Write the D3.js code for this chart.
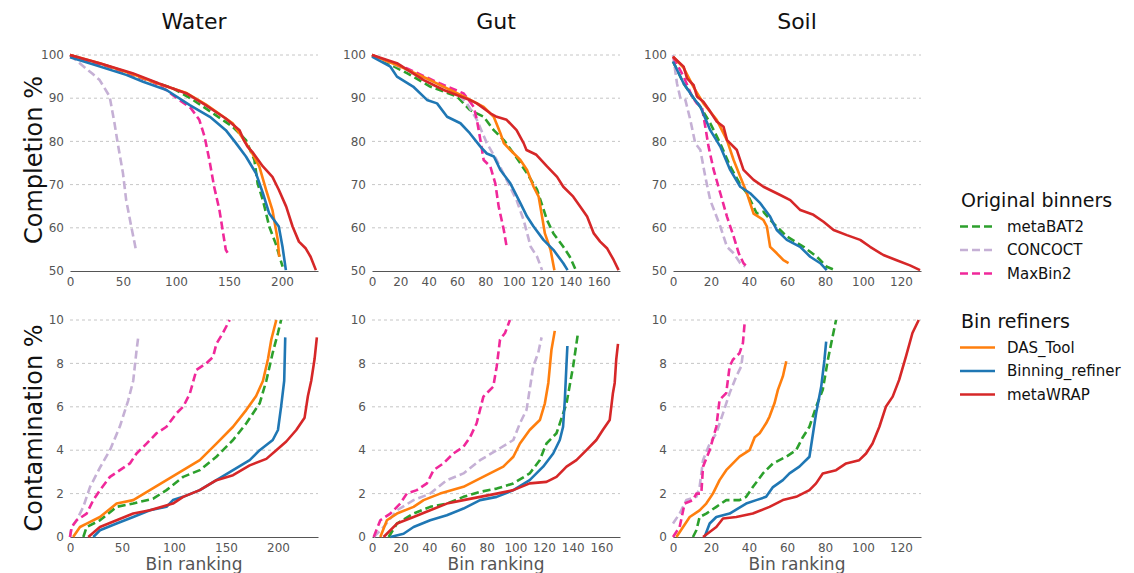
<!DOCTYPE html>
<html lang="en">
<head>
<meta charset="UTF-8">
<title>Bin ranking curves</title>
<script src="https://cdnjs.cloudflare.com/ajax/libs/d3/7.9.0/d3.min.js"></script>
<style>
    body { margin: 0; background: #fff; font-family: "DejaVu Sans", sans-serif; }
    .grid line { stroke: #b8b8b8; stroke-width: 0.8; stroke-dasharray: 3,3; }
    .tick-label { fill: #555; font-size: 12px; }
</style>
</head>
<body>
<div id="chart"></div>
<script>
// series order and styles
const seriesNames = ["metaBAT2", "CONCOCT", "MaxBin2", "DAS_Tool", "Binning_refiner", "metaWRAP"];
const seriesColors = ["#2ca02c", "#c5b0d5", "#f0289a", "#ff7f0e", "#1f77b4", "#d62728"];
const seriesDashed = [true, true, true, false, false, false];

const envs = ["Water", "Gut", "Soil"];
const compTicks = [50, 60, 70, 80, 90, 100];
const contTicks = [0, 2, 4, 6, 8, 10];
const xTicks = [[0, 50, 100, 150, 200], [0, 20, 40, 60, 80, 100, 120, 140, 160], [0, 20, 40, 60, 80, 100, 120]];
const compXmax = [234, 175, 130.5];
const contXmax = [238.5, 173, 130.5];

// completion %, [bin rank, value]
const waterCompletion = {
    metaBAT2: [[0,100],[15,98.8],[37,97.3],[59,95.4],[78,93.8],[97,92.3],[116,89.6],[135,86.5],[153.5,83.4],[166,80.3],[174,75.7],[177,70.3],[182,66.4],[188,60.3],[194,56.4],[200.6,51]],
    CONCOCT: [[0,100],[12,97.5],[21,95.7],[28,94.2],[37.4,90.4],[42,84.2],[45,79.6],[50,72.6],[53,66.4],[57.8,60.3],[61,56.4],[62.5,54.5]],
    MaxBin2: [[0,100],[15,98.8],[37,97.3],[59,95.4],[78,93.8],[90.7,91.9],[103,89.6],[114,87.7],[122,85],[127,81.1],[131.5,75.7],[136,69.5],[141,64.1],[144,59.5],[147,54.9],[150,53.7]],
    DAS_Tool: [[0,100],[28,98.1],[59,95.6],[84,93.3],[110,91.2],[128,88.6],[153.5,84.2],[166,79.6],[172,77.2],[178.6,74.2],[185,68.8],[191,64.1],[196,57.2],[197.4,53.3]],
    Binning_refiner: [[0,99.5],[20,98],[53,95.4],[69,93.8],[91,91.9],[113,88.4],[132,85.7],[147,82.6],[156.6,79.6],[166,76.5],[175.5,72.6],[182,68],[188,63.3],[197,60.3],[200.5,55.6],[203.7,50.2]],
    metaWRAP: [[0,100],[28,98.1],[59,95.8],[84,93.4],[110,91.1],[128,88.4],[147,85.3],[160,82.6],[164,80.3],[167.5,78.8],[172,77.6],[182,74.2],[191,71.8],[197,68.8],[204,64.9],[210,60.3],[216,56.8],[222.5,55.2],[227,53.3],[232,50.2]]
};
const gutCompletion = {
    metaBAT2: [[0,100],[24.7,95.8],[41,92.7],[60,90.4],[69,87.3],[78.8,85.7],[85.9,82.6],[93,80.3],[100,77.2],[109.4,72.6],[116.5,68.8],[123.5,61.8],[128,58.7],[135,55.6],[139.6,53.3],[143.8,50.2]],
    CONCOCT: [[0,100],[24.7,96.5],[41,94.2],[60,91.1],[67,88.8],[74,85],[81,79.6],[88,75.7],[95,71.1],[102,66.4],[107,61.8],[112,55.6],[116.5,53.3],[120,50.2]],
    MaxBin2: [[0,100],[24.7,96.9],[48,93.4],[64.7,91.1],[71.8,88],[74,85],[76.5,80.3],[78.8,75.7],[83.5,74.2],[87,70.3],[89.4,64.9],[93,59.5],[95,55.6]],
    DAS_Tool: [[0,100],[20,97.3],[41,94.2],[64.7,90.4],[78.8,88],[85.9,85.7],[90.6,81.9],[93,79.6],[97.6,78],[104.7,75.7],[109.4,73.4],[114,69.5],[117.6,67.2],[120,62.6],[122,58.7],[126,54.9],[128.7,50.2]],
    Binning_refiner: [[0,99.6],[13,97.3],[17.6,95],[29,92.7],[38.8,89.6],[45.9,88.8],[53,85.7],[62.4,84.2],[69,81.9],[76.5,78.8],[81,77.2],[86,76.5],[90.6,73.4],[97.6,70.3],[104.7,65.7],[109.4,62.6],[114,60.3],[121,57.2],[128,54.9],[135,51.8],[138,50.2]],
    metaWRAP: [[0,100],[17.6,98.1],[36.5,94.2],[50.6,91.9],[69,89.6],[74,88.8],[83.5,86.5],[88,85.7],[95,85],[102,82.6],[107,79.6],[109,78],[116,76.9],[123.5,74.2],[130.6,71.8],[135,69.5],[142,67.2],[147,64.9],[151.8,62.6],[156.5,58.7],[161,56.8],[166,55.2],[170.6,52.5],[174,50.2]]
};
const soilCompletion = {
    metaBAT2: [[0,98.5],[5.6,93.4],[10.9,90],[14.4,88],[19.6,84.2],[24.9,79.5],[30.1,74.2],[35.4,70],[38.9,68],[44.1,63.3],[47.6,63.7],[52.9,61],[59.9,58],[68.7,55.6],[75.7,53.3],[80.9,51],[85.3,50.2]],
    CONCOCT: [[0,100],[2.1,93.4],[3.9,90],[6.5,89.6],[9.1,85],[11.7,79.6],[14.4,78],[17,71.8],[19.6,66.4],[22.3,63.3],[24.9,60.3],[28.4,55.6],[31.9,54.1],[35.4,51.8],[38,51]],
    MaxBin2: [[0,99.6],[5.6,95],[10,90.4],[12.6,88.8],[15.2,88],[17,83.4],[18.7,78.8],[21.4,73.4],[24.9,68],[28.4,62.6],[31.9,58],[34.6,54.1],[37.1,51.8],[38.9,51]],
    DAS_Tool: [[0,99.6],[5.6,97],[10.9,92.5],[16,88.8],[23,85],[28.4,80.3],[31.9,75.7],[35.4,71.8],[38.9,68],[42.4,63.3],[47.6,61.8],[49.4,60.3],[51.1,55.6],[54.6,54.1],[58.1,52.5],[60.8,51.8]],
    Binning_refiner: [[0,98.5],[5.6,93.4],[10.9,90],[14.4,88],[19.6,82.6],[24.9,78.8],[30.1,73.4],[35.4,69.5],[40.6,68],[45.9,65.7],[51.1,62.6],[54.6,59.5],[59.9,57.2],[66.9,55.6],[72.2,53.3],[77.5,51.8],[80.9,50.2]],
    metaWRAP: [[0,99.6],[5.6,97.3],[7.4,94.6],[10.9,93],[12.6,90.4],[16,89.2],[19.6,86.9],[23,84.6],[26.6,83.4],[28.4,80.3],[33.6,78],[37.1,73.4],[42.4,71.1],[47.6,69.5],[56.4,67.6],[61.7,66.4],[67,64.1],[73.9,63],[79.2,61.4],[84.5,59.5],[91.5,58.3],[98.5,57.2],[103.7,55.6],[110.7,53.7],[117.7,52.5],[124.7,51.3],[130,50.2]]
};

// contamination %, [bin rank, value]
const waterContamination = {
    metaBAT2: [[12.8,0],[16,0.46],[28.8,0.77],[44.8,1.39],[60.8,1.54],[80,1.77],[92.8,2.16],[108.8,2.77],[124.8,3.08],[140.8,3.7],[156.8,4.47],[169.6,5.24],[182.4,6.16],[188.8,7.2],[195,8.5],[200,9.4],[203,10]],
    CONCOCT: [[0,0],[1.6,0.46],[6.4,0.77],[12.8,1.39],[19.2,2.3],[28.8,3.2],[38.4,4],[48,5.1],[56,6.3],[60.8,7.2],[64,8.6],[65.6,9.2]],
    MaxBin2: [[0,0],[1.6,0.46],[6.4,0.77],[16,1.08],[22.4,1.7],[28.8,2.16],[38.4,2.77],[48,3.08],[57.6,3.39],[64,3.85],[73.6,4.3],[83.2,4.78],[92.8,5.08],[102.4,5.7],[108.8,6],[115.2,6.6],[121.6,7.7],[131,8],[137.6,8.3],[140.8,8.9],[147,9.4],[153.6,10]],
    DAS_Tool: [[3,0],[9.6,0.46],[16,0.62],[28.8,0.92],[44.8,1.54],[60.8,1.7],[76.8,2.16],[92.8,2.62],[108.8,3.08],[124.8,3.54],[140.8,4.3],[156.8,5.08],[169.6,5.86],[179,6.5],[185.6,7.2],[190.4,8.2],[193.6,9.1],[198.4,10]],
    Binning_refiner: [[22.4,0],[28.8,0.31],[44.8,0.62],[60.8,0.92],[76.8,1.23],[92.8,1.39],[99,1.7],[108.8,1.85],[124.8,2.16],[140.8,2.62],[156.8,3.08],[172.8,3.54],[182.4,4],[195,4.47],[200,4.93],[203,6],[206,7.2],[207,9.2]],
    metaWRAP: [[17.6,0],[28.8,0.46],[44.8,0.77],[60.8,1.08],[76.8,1.23],[99,1.54],[108.8,1.85],[124.8,2.16],[140.8,2.62],[156.8,2.85],[172.8,3.3],[188.8,3.6],[198.4,4],[208,4.4],[217.6,4.93],[225.6,5.5],[228.8,6.5],[232,7.2],[235.2,8.2],[237.4,9.2]]
};
const gutContamination = {
    metaBAT2: [[11.6,0],[17.4,0.62],[29,1.08],[40.6,1.39],[52.2,1.54],[63.8,1.85],[75.4,2.08],[87,2.23],[98.6,2.47],[110,2.93],[117,3.54],[121.7,4.31],[128.7,4.78],[135.7,6.16],[140.3,7.86],[143.8,9.45]],
    CONCOCT: [[1.2,0],[8.1,0.46],[17.4,1.23],[29,1.7],[40.6,2],[52.2,2.62],[63.8,2.93],[75.4,3.54],[87,4],[98.6,4.47],[103.2,5.24],[107.8,5.86],[112.5,7.86],[116,8.5],[118.3,9.2]],
    MaxBin2: [[1.2,0],[5.8,0.77],[12.8,1.08],[19.7,1.54],[24.3,2],[31.3,2.16],[38.3,2.47],[42.9,3.08],[49.8,3.39],[56.8,3.85],[63.8,4.16],[68.4,4.6],[73,5.24],[77.7,6.47],[84.6,6.93],[87,7.86],[89.3,9.1],[92.8,9.4],[96.2,10]],
    DAS_Tool: [[5.8,0],[10.4,0.77],[17.4,1.08],[29,1.39],[36,1.7],[47.5,2],[63.8,2.31],[73,2.62],[82.3,2.93],[91.6,3.24],[98.6,3.7],[103.2,4.31],[110,4.93],[117.1,5.39],[120.6,6.16],[123,7.1],[125.2,8.63],[127.5,9.5]],
    Binning_refiner: [[12.8,0],[22,0.15],[29,0.46],[40.6,0.77],[52.2,1],[63.8,1.31],[75.4,1.7],[87,1.85],[98.6,2.16],[110,2.62],[119.4,3.24],[126.4,3.85],[131,4.47],[133.3,5.08],[134.5,6.3],[135.6,7.86],[136.3,8.8]],
    metaWRAP: [[8.1,0],[17.4,0.62],[29,0.92],[40.6,1.23],[52.2,1.54],[63.8,1.7],[75.4,1.85],[87,2],[98.6,2.16],[110,2.47],[121.7,2.54],[128.7,2.77],[135.7,3.24],[142.6,3.54],[149.6,4],[156.5,4.47],[161,4.93],[165.8,5.39],[168,6.6],[169.3,7.1],[170.4,8.2],[171.6,8.9]]
};
const soilContamination = {
    metaBAT2: [[10.5,0],[12.3,0.31],[14,0.92],[17.5,1.08],[22.8,1.39],[28,1.7],[35,1.7],[38.5,1.85],[42,2.3],[47.3,2.93],[52.6,3.39],[59.6,3.7],[64.8,4],[68.3,4.6],[71.8,5.08],[75.3,6],[78.8,6.78],[81.5,8.17],[84,9.24],[85.8,10]],
    CONCOCT: [[0,0.62],[3.5,1.08],[7,1.7],[12.3,1.85],[14,2.3],[15.8,3.54],[19.3,4.3],[22.8,4.78],[26.3,5.7],[29.8,6.63],[33.3,7.4],[35.9,7.86],[36.8,8.47]],
    MaxBin2: [[0,0],[3.5,0.46],[6.1,1.54],[10.5,1.7],[12.3,2],[14.9,2],[15.8,3.24],[19.3,4],[22.8,5.08],[24.5,6.32],[28,6.63],[29.8,7.86],[31.5,8.17],[35,8.47],[36.8,8.94],[37.7,9.86]],
    DAS_Tool: [[1.8,0],[5.3,0.46],[8.8,0.92],[14,1.23],[17.5,1.54],[21,2],[24.5,2.62],[28,3.08],[31.5,3.39],[35,3.7],[40.3,4],[43,4.6],[45.6,4.78],[49,5.24],[50.8,5.55],[53.4,6.16],[55.2,6.78],[57.8,7.4],[59.6,8.1]],
    Binning_refiner: [[16.6,0],[19.3,0.62],[22.8,0.92],[29.8,1.08],[38.5,1.54],[43.8,1.7],[49,1.85],[52.6,2.3],[57.8,2.62],[61.3,2.93],[66.5,3.24],[71.8,3.7],[75.3,5.7],[78,6.93],[79.7,8.17],[80.6,9]],
    metaWRAP: [[15.8,0],[22.8,0.46],[26.3,0.85],[33.3,0.92],[42,1.08],[50.8,1.39],[57.8,1.7],[64.8,1.85],[71.8,2.16],[75.3,2.47],[78.8,2.93],[85.8,3.08],[91.1,3.39],[98,3.54],[101.6,3.85],[105,4.31],[108.6,5.08],[112,6],[115.6,6.47],[119,7.24],[122.6,8.32],[126,9.4],[129.3,10]]
};

const completionData = [waterCompletion, gutCompletion, soilCompletion];
const contaminationData = [waterContamination, gutContamination, soilContamination];

const W = 1134, H = 573;
const colX = [70, 372, 673];
const plotW = 248;
const rows = [
    { top: 55, bottom: 271, domain: [50, 100], ticks: compTicks, data: completionData, xmax: compXmax },
    { top: 320, bottom: 537, domain: [0, 10], ticks: contTicks, data: contaminationData, xmax: contXmax }
];

const svg = d3.select("#chart").append("svg")
    .attr("width", W)
    .attr("height", H);

rows.forEach((row, ri) => {
    const y = d3.scaleLinear().domain(row.domain).range([row.bottom, row.top]);
    colX.forEach((x0, ci) => {
        const x = d3.scaleLinear().domain([0, row.xmax[ci]]).range([x0, x0 + plotW]);
        const g = svg.append("g");

        // dashed gridlines
        g.append("g").attr("class", "grid")
            .selectAll("line")
            .data(row.ticks.slice(1))
            .enter().append("line")
            .attr("x1", x0).attr("x2", x0 + plotW)
            .attr("y1", d => y(d)).attr("y2", d => y(d));

        // y tick labels
        g.selectAll(".ylab")
            .data(row.ticks)
            .enter().append("text")
            .attr("class", "tick-label")
            .attr("x", x0 - 6)
            .attr("y", d => y(d))
            .attr("dy", "0.35em")
            .attr("text-anchor", "end")
            .text(d => d);

        // bottom axis
        const ax = g.append("g")
            .attr("transform", `translate(0,${row.bottom})`)
            .call(d3.axisBottom(x).tickValues(xTicks[ci]).tickSize(0).tickPadding(6));
        ax.select(".domain").attr("stroke", "#555").attr("stroke-width", 1.2);
        ax.selectAll("text").attr("fill", "#555").style("font-size", "12px").style("font-family", "DejaVu Sans");

        // curves
        const line = d3.line().x(d => x(d[0])).y(d => y(d[1]));
        seriesNames.forEach((name, si) => {
            g.append("path")
                .datum(row.data[ci][name])
                .attr("d", line)
                .attr("fill", "none")
                .attr("stroke", seriesColors[si])
                .attr("stroke-width", 2.6)
                .attr("stroke-linejoin", "round")
                .attr("stroke-dasharray", seriesDashed[si] ? "8,4" : null);
        });

        if (ri === 0) {
            svg.append("text")
                .attr("x", x0 + plotW / 2).attr("y", 29)
                .attr("text-anchor", "middle")
                .style("font-size", "22px").attr("fill", "#111")
                .text(envs[ci]);
        } else {
            svg.append("text")
                .attr("x", x0 + plotW / 2).attr("y", 570)
                .attr("text-anchor", "middle")
                .style("font-size", "17px").attr("fill", "#555")
                .text("Bin ranking");
        }
    });
});

// row labels
[["Completion %", 160], ["Contamination %", 428]].forEach(([t, cy]) => {
    svg.append("text")
        .attr("transform", `translate(42,${cy}) rotate(-90)`)
        .attr("text-anchor", "middle")
        .style("font-size", "24px").attr("fill", "#111")
        .text(t);
});

// legend
const legendGroups = [
    { title: "Original binners", y: 207, items: [0, 1, 2] },
    { title: "Bin refiners", y: 328, items: [3, 4, 5] }
];
legendGroups.forEach(grp => {
    svg.append("text")
        .attr("x", 961).attr("y", grp.y)
        .style("font-size", "19px").attr("fill", "#111")
        .text(grp.title);
    grp.items.forEach((si, k) => {
        const yy = grp.y + 24.5 + k * 23.5;
        svg.append("line")
            .attr("x1", 960).attr("x2", 995)
            .attr("y1", yy - 5).attr("y2", yy - 5)
            .attr("stroke", seriesColors[si])
            .attr("stroke-width", 2.6)
            .attr("stroke-dasharray", seriesDashed[si] ? "8,4" : null);
        svg.append("text")
            .attr("x", 1007).attr("y", yy)
            .style("font-size", "15px").attr("fill", "#111")
            .text(seriesNames[si]);
    });
});
</script>
</body>
</html>
